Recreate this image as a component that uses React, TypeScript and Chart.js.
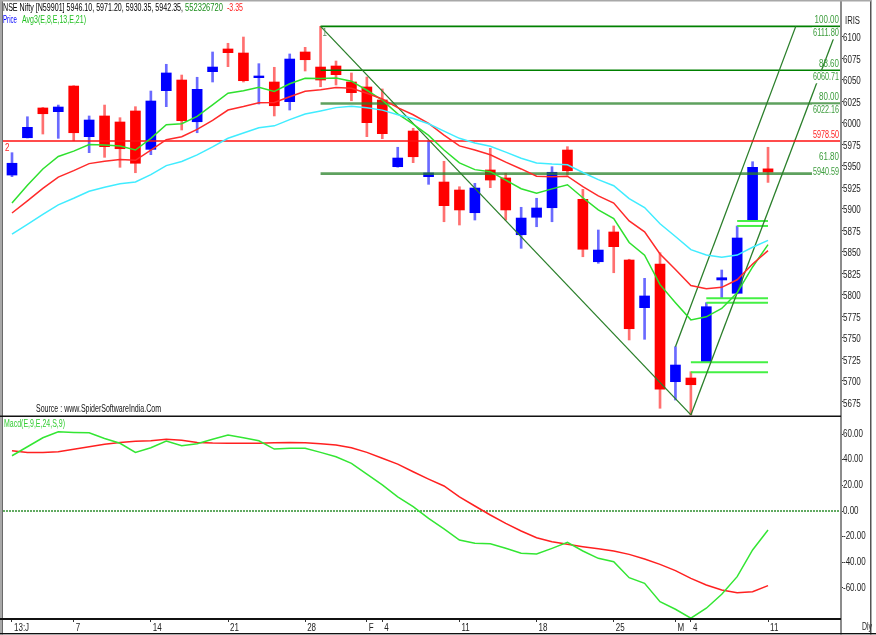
import { useEffect, useRef } from "react";
import { Chart, registerables } from "chart.js";
Chart.register(...registerables);

const FONT = "'Liberation Sans','DejaVu Sans',sans-serif";

// ---- data (NSE Nifty daily, 1 Jan 2013 .. 11 Mar 2013) ----
const openP = [
  5938.9, 5982.3, 6016.9, 6012.6, 6042.4, 5983.5, 6007.6, 6000.6, 6013.4, 5968.8,
  6037.0, 6049.4, 6000.9, 6059.1, 6085.5, 6080.8, 6052.1, 6047.1, 6024.2, 6082.0,
  6064.5, 6065.7, 6047.1, 6041.3, 6026.2, 5948.6, 5990.1, 5937.0, 5930.8, 5921.5,
  5895.1, 5944.8, 5935.5, 5869.5, 5889.8, 5900.9, 5968.0, 5910.7, 5838.1, 5872.7,
  5840.1, 5784.7, 5835.5, 5698.6, 5702.9, 5721.2, 5816.9, 5801.4, 5885.5, 5946.1,
];
const highP = [
  5964.9, 6006.7, 6017.5, 6020.3, 6042.8, 6007.6, 6020.3, 6005.6, 6018.4, 6036.6,
  6067.7, 6055.2, 6052.6, 6082.0, 6092.1, 6099.4, 6068.4, 6064.2, 6079.7, 6087.4,
  6111.8, 6071.5, 6057.6, 6052.9, 6039.0, 5971.2, 5993.3, 5978.8, 5954.9, 5925.3,
  5929.3, 5970.0, 5940.9, 5901.4, 5911.9, 5948.6, 5971.9, 5922.3, 5875.0, 5879.7,
  5841.0, 5818.8, 5848.6, 5739.3, 5710.2, 5790.5, 5828.5, 5879.7, 5954.4, 5971.2,
];
const lowP = [
  5937.0, 5982.0, 5986.6, 5981.6, 5978.8, 5964.9, 5959.5, 5947.9, 5941.6, 5962.6,
  6018.4, 5991.3, 5988.1, 6047.1, 6064.9, 6047.1, 6021.5, 6007.6, 6014.5, 6059.9,
  6041.6, 6043.6, 6025.3, 5983.5, 5981.2, 5948.0, 5953.3, 5928.1, 5884.6, 5880.8,
  5886.6, 5924.2, 5886.6, 5853.7, 5878.8, 5884.6, 5938.9, 5843.9, 5836.3, 5825.3,
  5747.1, 5747.9, 5667.7, 5677.3, 5660.0, 5721.2, 5795.6, 5800.8, 5885.5, 5930.35,
];
const closeP = [
  5952.6, 5994.4, 6010.2, 6018.0, 5988.1, 6002.9, 5971.9, 5969.5, 5952.6, 6025.0,
  6057.6, 6002.1, 6038.6, 6064.5, 6081.2, 6048.6, 6054.1, 6019.5, 6073.8, 6073.0,
  6049.4, 6055.6, 6034.7, 5999.8, 5987.0, 5958.7, 5960.2, 5941.3, 5903.3, 5898.3,
  5923.8, 5933.1, 5898.3, 5888.9, 5900.6, 5942.1, 5943.9, 5852.6, 5851.7, 5855.6,
  5760.2, 5798.3, 5689.8, 5718.0, 5695.1, 5785.8, 5819.5, 5865.7, 5947.9, 5942.35,
];
const ema8 = [
  5906.4, 5927.0, 5946.0, 5960.5, 5966.7, 5974.4, 5973.8, 5972.7, 5968.0, 5981.5,
  5997.5, 5998.6, 6007.2, 6020.5, 6034.0, 6037.0, 6041.0, 6036.0, 6045.0, 6051.4,
  6051.2, 6051.8, 6048.0, 6037.5, 6026.0, 6010.0, 5998.0, 5985.0, 5968.0, 5953.0,
  5945.2, 5942.8, 5933.0, 5923.0, 5917.8, 5922.8, 5927.6, 5912.5, 5898.5, 5888.2,
  5860.5, 5845.8, 5811.4, 5790.5, 5770.5, 5774.0, 5783.8, 5802.0, 5832.0, 5858.0,
];
const ema13 = [
  5894.8, 5908.9, 5923.3, 5936.5, 5944.0, 5952.2, 5955.0, 5956.9, 5956.1, 5968.0,
  5980.0, 5983.5, 5992.0, 6002.5, 6014.5, 6018.5, 6023.0, 6023.3, 6030.0, 6036.3,
  6038.2, 6040.8, 6039.9, 6034.0, 6027.3, 6017.3, 6009.0, 5999.0, 5985.3, 5972.8,
  5968.0, 5962.5, 5954.0, 5946.0, 5937.5, 5936.8, 5937.6, 5925.4, 5914.7, 5906.3,
  5885.6, 5872.9, 5847.2, 5829.0, 5810.5, 5806.6, 5808.3, 5817.1, 5835.5, 5851.0,
];
const ema21 = [
  5870.3, 5881.5, 5893.1, 5904.3, 5911.9, 5920.1, 5924.8, 5928.7, 5930.8, 5939.3,
  5949.9, 5954.7, 5962.4, 5971.6, 5981.7, 5987.8, 5993.8, 5996.1, 6003.3, 6009.8,
  6013.4, 6017.3, 6018.9, 6017.1, 6014.4, 6009.1, 6004.6, 5998.6, 5990.0, 5981.6,
  5976.2, 5972.3, 5965.5, 5958.4, 5952.9, 5951.7, 5950.9, 5941.9, 5933.6, 5926.5,
  5911.5, 5901.1, 5882.2, 5867.4, 5852.1, 5845.9, 5843.4, 5845.8, 5854.9, 5862.9,
];
const macdLine = [
  43.1, 50.1, 57.1, 61.8, 61.3, 61.0, 56.6, 52.8, 45.7, 49.3,
  54.6, 50.9, 52.5, 55.9, 59.2, 57.1, 54.8, 48.3, 48.9, 48.9,
  45.7, 42.3, 37.2, 28.8, 20.3, 11.1, 3.4, -5.7, -14.0, -22.6,
  -25.2, -25.5, -29.1, -33.0, -33.5, -29.1, -24.4, -31.2, -36.9, -39.5,
  -52.0, -56.4, -70.7, -76.6, -83.6, -75.8, -64.9, -51.2, -30.4, -14.8,
];
const signalLine = [
  47.0, 45.7, 45.7, 46.2, 48.1, 50.1, 52.0, 53.5, 54.3, 54.8,
  55.9, 55.1, 53.5, 53.0, 52.8, 52.8, 52.8, 53.2, 53.5, 53.2,
  52.5, 51.4, 49.3, 45.7, 41.1, 36.6, 30.6, 24.9, 19.5, 11.1,
  3.9, -3.1, -9.6, -15.6, -20.8, -23.9, -26.0, -27.8, -29.4, -31.2,
  -33.8, -37.4, -41.6, -46.5, -52.5, -57.7, -61.6, -63.7, -62.9, -58.2,
];
const priceTicks = [5675, 5700, 5725, 5750, 5775, 5800, 5825, 5850, 5875, 5900, 5925, 5950, 5975, 6000, 6025, 6050, 6075, 6100];
const macdTicks = [-60, -40, -20, 0, 20, 40, 60];
const xTickIndex = [0, 4, 9, 14, 19, 23, 24, 29, 34, 39, 43, 44, 49];
const xTickLabels = ["13:J", "7", "14", "21", "28", "F", "4", "11", "18", "25", "M", "4", "11"];
const fibPercents = ["100.00", "88.60", "80.00", "61.80"];
const fibValues = [6111.8, 6060.71, 6022.16, 5940.59];
const fibStartIndex = 20;
const resistanceLevel = 5978.5;
const trendFromX = [20, 44, 43];
const trendFromY = [6111.8, 5660.0, 5739.3];
const trendToX = [44, 53.55, 50.8];
const trendToY = [5660.0, 6111.8, 6111.8];
const gapStartIndex = [44, 45, 47];
const gapEndIndex = 49;
const gapLower = [5709.5, 5790.5, 5879.7];
const gapUpper = [5721.2, 5795.6, 5885.5];

// ---- layout constants ----
const X_MIN = -0.583;
const X_MAX = 53.73;
const P_MIN = 5658.72;
const P_MAX = 6140.12;
const M_MIN = -84.2;
const M_MAX = 73.3;
const TICK_SX = 0.8;

const FIB_LABEL = "#3c9c3c";

// draws text squeezed horizontally (sx) or fitted to a target width (w)
function txt(
  ctx: CanvasRenderingContext2D,
  s: string,
  x: number,
  y: number,
  color: string,
  size: number,
  opts: { align?: CanvasTextAlign; sx?: number; w?: number; bg?: boolean } = {}
) {
  const align = opts.align || "left";
  ctx.save();
  ctx.font = `${size}px ${FONT}`;
  ctx.textAlign = align;
  ctx.textBaseline = "middle";
  const raw = ctx.measureText(s).width;
  const sx = opts.w ? opts.w / raw : opts.sx || 1;
  const w = raw * sx;
  if (opts.bg) {
    const left = align === "right" ? x - w : align === "center" ? x - w / 2 : x;
    ctx.fillStyle = "#ffffff";
    ctx.fillRect(left - 1, y - size / 2 - 1, w + 2, size + 2);
  }
  ctx.translate(x, y);
  ctx.scale(sx, 1);
  ctx.fillStyle = color;
  ctx.fillText(s, 0, 0);
  ctx.restore();
  return w;
}

// makes the library's tick labels narrower (the original uses a condensed bitmap font)
const condenseTicks = {
  id: "condenseTicks",
  beforeDraw(chart: any) {
    const ctx: any = chart.ctx;
    const proto = Object.getPrototypeOf(ctx);
    ctx.fillText = function (t: string, x: number, y: number, mw?: number) {
      this.save();
      this.translate(x, y);
      this.scale(TICK_SX, 1);
      if (mw === undefined) proto.fillText.call(this, t, 0, 0);
      else proto.fillText.call(this, t, 0, 0, mw);
      this.restore();
    };
  },
  beforeDatasetsDraw(chart: any) {
    delete chart.ctx.fillText;
  },
};

function frame(ctx: CanvasRenderingContext2D, h: number) {
  ctx.fillStyle = "#a8a8a8";
  ctx.fillRect(0, 0, 2, h);
  ctx.fillStyle = "#6a6a6a";
  ctx.fillRect(2, 0, 1, h);
  ctx.fillStyle = "#555555";
  ctx.fillRect(870, 0, 1.5, h);
  ctx.fillStyle = "#8c8c8c";
  ctx.fillRect(840, 0, 2, h);
}

const priceOverlay = {
  id: "priceOverlay",
  afterDraw(chart: any) {
    const ctx: CanvasRenderingContext2D = chart.ctx;
    const ys = chart.scales.y;
    ctx.save();
    frame(ctx, 417);
    ctx.fillStyle = "#a8a8a8";
    ctx.fillRect(0, 0, 871, 1.5);
    ctx.fillStyle = "#111111";
    ctx.fillRect(0, 415.5, 841, 2);

    // header
    txt(ctx, "NSE Nifty [N59901] 5946.10, 5971.20, 5930.35, 5942.35,", 3, 8, "#000000", 10.5, { w: 180 });
    txt(ctx, "552326720", 185, 8, "#1f8f1f", 10.5, { w: 38 });
    txt(ctx, "-3.35", 227, 8, "#ff2020", 10.5, { w: 16 });
    txt(ctx, "Price", 3, 20, "#0000ff", 10.5, { w: 14 });
    txt(ctx, "Avg3(E,8,E,13,E,21)", 22, 20, "#22c022", 10.5, { w: 64 });
    txt(ctx, "IRIS", 845, 21, "#222222", 10, { w: 15 });

    // fib labels
    fibValues.forEach((v, k) => {
      const py = ys.getPixelForValue(v);
      const up = k < 3 ? py - 6 : py - 16;
      const dn = k < 3 ? py + 7 : py - 1;
      txt(ctx, fibPercents[k], 839, up, FIB_LABEL, 10, { align: "right", sx: 0.8 });
      txt(ctx, v.toFixed(2), 839, dn, FIB_LABEL, 10, { align: "right", w: 26, bg: true });
    });
    const ry = ys.getPixelForValue(resistanceLevel);
    txt(ctx, resistanceLevel.toFixed(2), 839, ry - 6, "#ff2020", 10, { align: "right", w: 26 });
    txt(ctx, "2", 5, ry + 7, "#ff2020", 10, { sx: 0.8 });
    const fx = chart.scales.x.getPixelForValue(fibStartIndex);
    txt(ctx, "1", fx + 2, ys.getPixelForValue(fibValues[0]) + 7, "#5a8a5a", 10, { sx: 0.8 });
    txt(ctx, "Source : www.SpiderSoftwareIndia.Com", 36, 409, "#111111", 10, { w: 125 });
    ctx.restore();
  },
};

const macdOverlay = {
  id: "macdOverlay",
  afterDraw(chart: any) {
    const ctx: CanvasRenderingContext2D = chart.ctx;
    ctx.save();
    frame(ctx, 218);
    ctx.fillStyle = "#111111";
    ctx.fillRect(0, 201, 841, 2);
    ctx.fillRect(0, 216, 876, 1.5);
    ctx.fillStyle = "#c8c8c8";
    ctx.fillRect(0, 217.5, 876, 0.5);
    txt(ctx, "Macd(E,9,E,24,S,9)", 4, 7, "#33cc33", 10.5, { w: 61 });
    txt(ctx, "Dly", 862, 210, "#222222", 10, { w: 10 });
    ctx.restore();
  },
};

function lineDs(points: { x: number; y: number }[], color: string, width: number, order: number, dash: number[] = []) {
  return {
    type: "line" as const,
    data: points,
    borderColor: color,
    backgroundColor: color,
    borderWidth: width,
    borderDash: dash,
    pointRadius: 0,
    tension: 0,
    fill: false,
    order,
  };
}

const noPad = (s: any) => {
  s.paddingTop = 0;
  s.paddingBottom = 0;
  s.paddingLeft = 0;
  s.paddingRight = 0;
};

export default function App() {
  const priceRef = useRef<HTMLCanvasElement>(null);
  const macdRef = useRef<HTMLCanvasElement>(null);

  useEffect(() => {
    const up = closeP.map((c, i) => c >= openP[i]);
    const datasets: any[] = [
      {
        type: "bar",
        data: openP.map((o, i) => ({ x: i, y: [o, closeP[i]] })),
        backgroundColor: up.map((u) => (u ? "#0000ff" : "#ff0000")),
        barThickness: 10,
        grouped: false,
        borderWidth: 0,
        order: 5,
      },
      {
        type: "bar",
        data: lowP.map((l, i) => ({ x: i, y: [l, highP[i]] })),
        backgroundColor: up.map((u) => (u ? "#6a6aff" : "#ff7070")),
        barThickness: 2,
        grouped: false,
        borderWidth: 0,
        order: 6,
      },
      lineDs(ema21.map((v, i) => ({ x: i, y: v })), "#40ecff", 1.5, 1),
      lineDs(ema13.map((v, i) => ({ x: i, y: v })), "#ff2a2a", 1.5, 1),
      lineDs(ema8.map((v, i) => ({ x: i, y: v })), "#2ee02e", 1.5, 1),
      lineDs([{ x: X_MIN, y: resistanceLevel }, { x: X_MAX, y: resistanceLevel }], "#ff1010", 1.5, 2),
    ];
    fibValues.forEach((v, k) => {
      datasets.push(
        lineDs(
          [{ x: fibStartIndex, y: v }, { x: X_MAX, y: v }],
          k < 2 ? "#008000" : "rgba(40,130,40,0.75)",
          k < 2 ? 1.6 : 2.6,
          3
        )
      );
    });
    trendFromX.forEach((fx, k) => {
      datasets.push(
        lineDs([{ x: fx, y: trendFromY[k] }, { x: trendToX[k], y: trendToY[k] }], "#2a7f2a", 1.3, 2)
      );
    });
    gapStartIndex.forEach((s, k) => {
      datasets.push(lineDs([{ x: s, y: gapLower[k] }, { x: gapEndIndex, y: gapLower[k] }], "#44f044", 2, 2));
      datasets.push(lineDs([{ x: s, y: gapUpper[k] }, { x: gapEndIndex, y: gapUpper[k] }], "#44f044", 2, 2));
    });

    const axisFont = { family: FONT, size: 10 };
    const priceChart = new Chart(priceRef.current!, {
      type: "bar",
      data: { datasets },
      plugins: [condenseTicks, priceOverlay],
      options: {
        responsive: false,
        animation: false,
        devicePixelRatio: 1,
        layout: { padding: { left: 3, top: 2, right: 5, bottom: 1 } },
        plugins: { legend: { display: false }, tooltip: { enabled: false } },
        scales: {
          x: { type: "linear", display: false, min: X_MIN, max: X_MAX, offset: false },
          y: {
            type: "linear",
            position: "right",
            min: P_MIN,
            max: P_MAX,
            afterBuildTicks: (s: any) => {
              s.ticks = priceTicks.map((v) => ({ value: v }));
            },
            afterFit: (s: any) => {
              s.width = 30;
              noPad(s);
            },
            ticks: { font: axisFont, color: "#222222", padding: 0, labelOffset: 2, callback: (v: any) => String(v) },
            grid: { drawOnChartArea: false, drawTicks: true, tickLength: 2, color: "#333333" },
            border: { display: true, color: "#8c8c8c", width: 2 },
          },
        },
      } as any,
    });

    const macdChart = new Chart(macdRef.current!, {
      type: "line",
      data: {
        datasets: [
          lineDs([{ x: X_MIN, y: 0 }, { x: X_MAX, y: 0 }], "#2f8f2f", 1.5, 3, [2, 1]),
          lineDs(signalLine.map((v, i) => ({ x: i, y: v })), "#ff2020", 1.5, 1),
          lineDs(macdLine.map((v, i) => ({ x: i, y: v })), "#33e633", 1.5, 0),
        ] as any,
      },
      plugins: [condenseTicks, macdOverlay],
      options: {
        responsive: false,
        animation: false,
        devicePixelRatio: 1,
        layout: { padding: { left: 3, top: 0, right: 5, bottom: 2 } },
        plugins: { legend: { display: false }, tooltip: { enabled: false } },
        scales: {
          x: {
            type: "linear",
            position: "bottom",
            min: X_MIN,
            max: X_MAX,
            offset: false,
            afterBuildTicks: (s: any) => {
              s.ticks = xTickIndex.map((v) => ({ value: v }));
            },
            afterFit: (s: any) => {
              s.height = 14;
              noPad(s);
            },
            ticks: {
              font: axisFont,
              color: "#222222",
              align: "start",
              labelOffset: 2,
              padding: 0,
              autoSkip: false,
              maxRotation: 0,
              callback: (v: any) => {
                const k = xTickIndex.indexOf(Number(v));
                return k >= 0 ? xTickLabels[k] : "";
              },
            },
            grid: { drawOnChartArea: false, drawTicks: true, tickLength: 3, color: "#333333" },
            border: { display: true, color: "#111111", width: 2 },
          },
          y: {
            type: "linear",
            position: "right",
            min: M_MIN,
            max: M_MAX,
            afterBuildTicks: (s: any) => {
              s.ticks = macdTicks.map((v) => ({ value: v }));
            },
            afterFit: (s: any) => {
              s.width = 30;
              noPad(s);
            },
            ticks: { font: axisFont, color: "#222222", padding: 0, callback: (v: any) => Number(v).toFixed(2) },
            grid: { drawOnChartArea: false, drawTicks: true, tickLength: 2, color: "#333333" },
            border: { display: true, color: "#8c8c8c", width: 2 },
          },
        },
      } as any,
    });

    return () => {
      priceChart.destroy();
      macdChart.destroy();
    };
  }, []);

  return (
    <div style={{ position: "absolute", left: 0, top: 0, width: 876, height: 635, background: "#ffffff" }}>
      <canvas ref={priceRef} width={876} height={417} style={{ position: "absolute", left: 0, top: 0, width: 876, height: 417 }} />
      <canvas ref={macdRef} width={876} height={218} style={{ position: "absolute", left: 0, top: 417, width: 876, height: 218 }} />
    </div>
  );
}
